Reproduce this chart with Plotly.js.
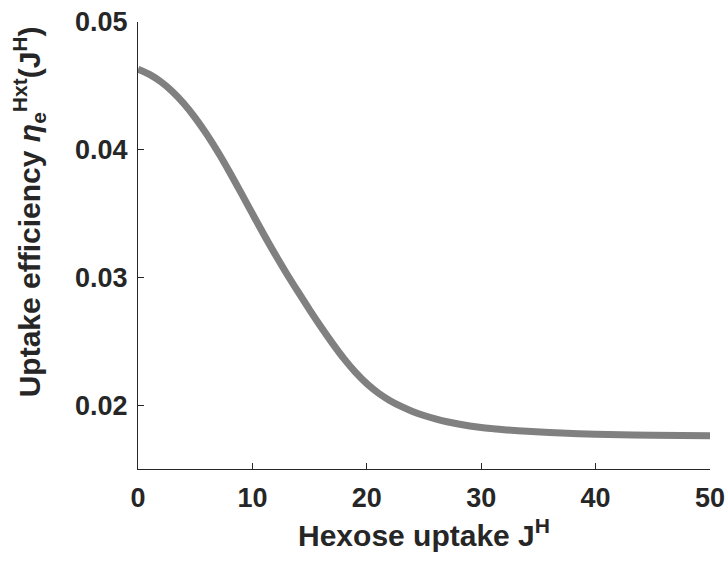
<!DOCTYPE html>
<html>
<head>
<meta charset="utf-8">
<script src="https://cdn.plot.ly/plotly-3.0.1.min.js"></script>
<style>html,body{margin:0;padding:0;background:#fff;}#chart{width:727px;height:563px;}</style>
</head>
<body>
<div id="chart"></div>
<script>
const uptakeJH = [0, 1, 2, 3, 4, 5, 6, 7, 8, 9, 10, 11, 12, 13, 14, 15, 16, 17, 18, 19, 20, 21, 22, 23, 24, 25, 26, 27, 28, 29, 30, 31, 32, 34, 37, 40, 45, 50];
const efficiency = [0.04630, 0.04590, 0.04532, 0.04456, 0.04362, 0.04250, 0.04122, 0.03980, 0.03826, 0.03664, 0.03499, 0.03336, 0.03179, 0.03029, 0.02886, 0.02746, 0.02612, 0.02484, 0.02364, 0.02258, 0.02168, 0.02095, 0.02037, 0.01990, 0.01951, 0.01919, 0.01892, 0.01870, 0.01852, 0.01837, 0.01825, 0.01816, 0.01808, 0.01795, 0.01781, 0.01772, 0.01765, 0.01760];
const xTickVals = [0, 10, 20, 30, 40, 50];
const yTickVals = [0.02, 0.03, 0.04, 0.05];
const yTickText = ['0.02', '0.03', '0.04', '0.05'];
const xTitle = 'Hexose uptake J<sup>H</sup>';
const yTitle = 'Uptake efficiency <i>η</i><sub>e</sub><sup>Hxt</sup>(J<sup>H</sup>)';

const font = 'Liberation Sans, Arial, sans-serif';
const axisColor = '#262626';

Plotly.newPlot('chart', [{
  x: uptakeJH,
  y: efficiency,
  type: 'scatter',
  mode: 'lines',
  line: {color: '#808080', width: 7, shape: 'spline', smoothing: 1},
  hoverinfo: 'none'
}], {
  width: 727, height: 563,
  margin: {l: 138, r: 17, t: 22, b: 93.5},
  paper_bgcolor: '#fff', plot_bgcolor: '#fff',
  showlegend: false,
  font: {family: font, color: axisColor},
  xaxis: {
    range: [0, 50], tickvals: xTickVals,
    ticks: 'inside', ticklen: 6, tickcolor: axisColor, tickwidth: 1,
    showline: true, linecolor: axisColor, linewidth: 1,
    showgrid: false, zeroline: false,
    tickfont: {family: font, size: 27, color: axisColor, weight: 'bold'},
    ticklabelstandoff: 5,
    title: {text: xTitle, font: {family: font, size: 30, color: axisColor, weight: 'bold'}, standoff: 12}
  },
  yaxis: {
    range: [0.015, 0.05], tickvals: yTickVals, ticktext: yTickText,
    ticks: 'inside', ticklen: 6, tickcolor: axisColor, tickwidth: 1,
    showline: true, linecolor: axisColor, linewidth: 1,
    showgrid: false, zeroline: false,
    tickfont: {family: font, size: 27, color: axisColor, weight: 'bold'},
    ticklabelstandoff: 4
  },
  annotations: [{
    text: yTitle, xref: 'paper', yref: 'paper',
    x: -0.19, y: 0.575, xanchor: 'center', yanchor: 'middle',
    textangle: -90, showarrow: false,
    font: {family: font, size: 30, color: axisColor, weight: 'bold'}
  }]
}, {staticPlot: true, displayModeBar: false});
</script>
</body>
</html>
